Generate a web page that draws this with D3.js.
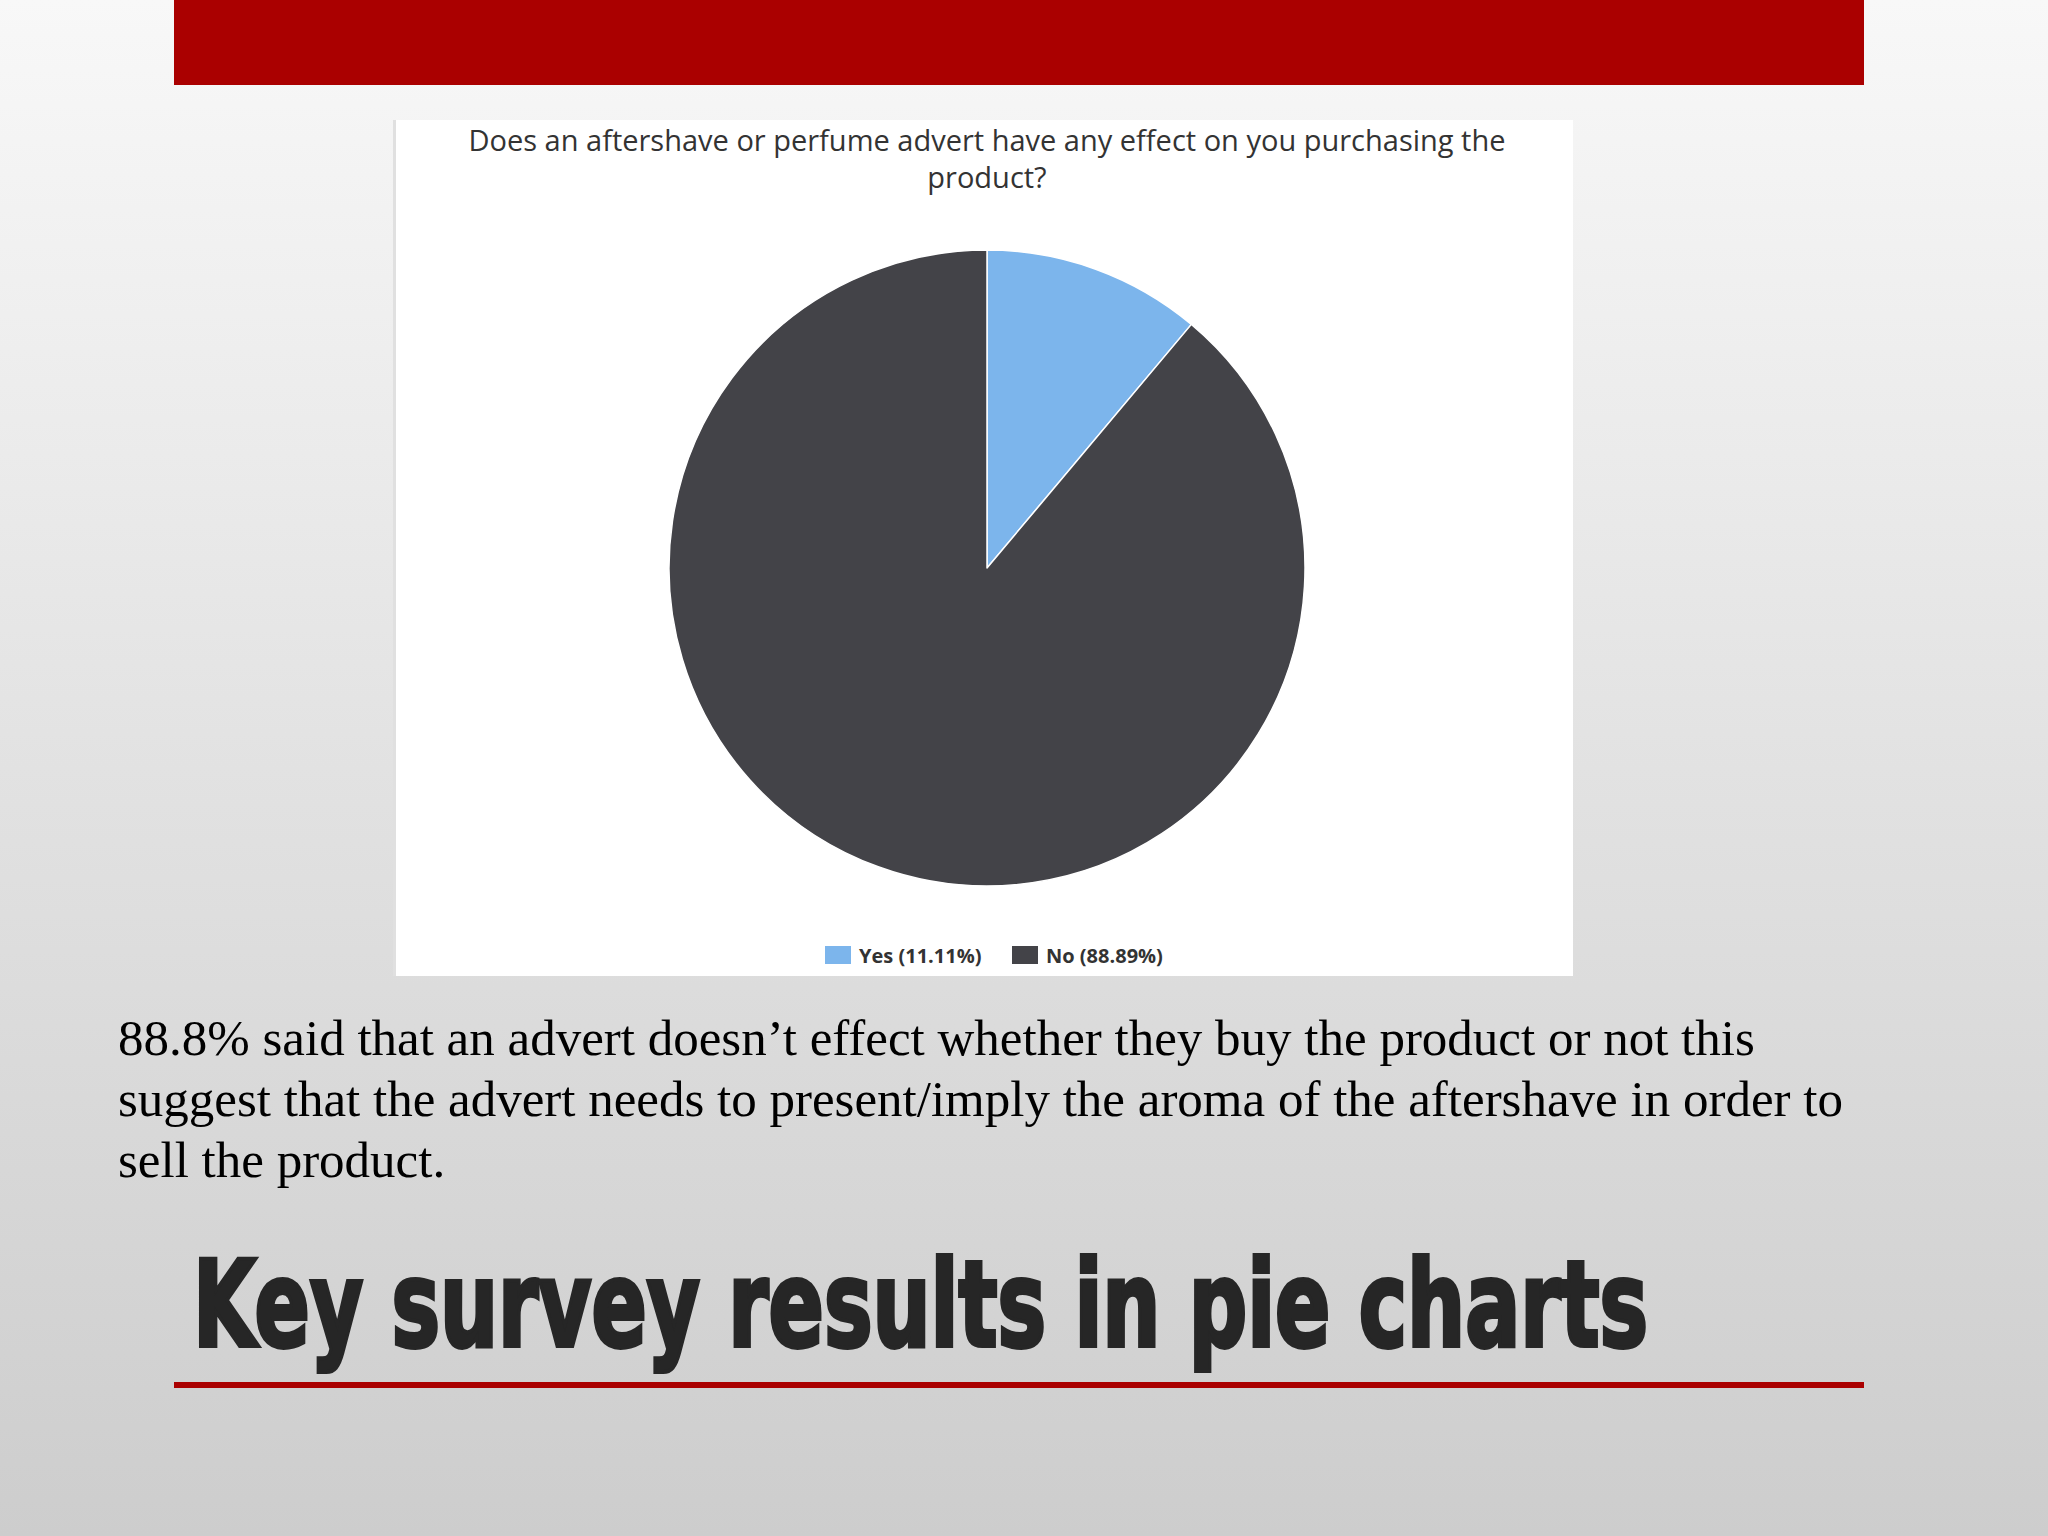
<!DOCTYPE html>
<html><head><meta charset="utf-8">
<script src="https://cdn.jsdelivr.net/npm/d3@7"></script>
<style>html,body{margin:0;padding:0;background:#fff;}svg{display:block;}</style>
</head><body>
<script>
const categories = ["Yes", "No"];
const values = [11.11, 88.89];
const legendLabels = ["Yes (11.11%)", "No (88.89%)"];
const colors = ["#7cb5ec", "#434348"];
const chartTitle = ["Does an aftershave or perfume advert have any effect on you purchasing the", "product?"];
const bodyLines = [
  "88.8% said that an advert doesn\u2019t effect whether they buy the product or not this",
  "suggest that the advert needs to present/imply the aroma of the aftershave in order to",
  "sell the product."
];
const heading = "Key survey results in pie charts";

const W = 2048, H = 1536;
const svg = d3.select("body").append("svg").attr("width", W).attr("height", H);
const defs = svg.append("defs");
const g = defs.append("linearGradient").attr("id", "bg").attr("x1", 0).attr("y1", 0).attr("x2", 0).attr("y2", 1);
g.append("stop").attr("offset", "0%").attr("stop-color", "#f8f8f8");
g.append("stop").attr("offset", "50%").attr("stop-color", "#e2e2e2");
g.append("stop").attr("offset", "100%").attr("stop-color", "#cdcdcd");
svg.append("rect").attr("width", W).attr("height", H).attr("fill", "url(#bg)");

// top red bar
svg.append("rect").attr("x", 174).attr("y", 0).attr("width", 1690).attr("height", 85).attr("fill", "#aa0000");

// chart panel
svg.append("rect").attr("x", 393).attr("y", 120).attr("width", 3).attr("height", 856).attr("fill", "#e0e0e0");
svg.append("rect").attr("x", 396).attr("y", 120).attr("width", 1177).attr("height", 856).attr("fill", "#ffffff");

// title
svg.append("g").selectAll("text").data(chartTitle).join("text")
  .attr("x", 987).attr("y", (d, i) => 151 + i * 37)
  .attr("text-anchor", "middle")
  .attr("font-family", "'Open Sans', sans-serif")
  .attr("font-size", 29).attr("fill", "#333333")
  .text(d => d);

// pie
const cx = 987, cy = 568, R = 318;
const pie = d3.pie().sort(null).value(d => d)(values);
const arc = d3.arc().innerRadius(0).outerRadius(R);
svg.append("g").attr("transform", `translate(${cx},${cy})`)
  .selectAll("path").data(pie).join("path")
  .attr("d", arc)
  .attr("fill", (d, i) => colors[i])
  .attr("stroke", "#ffffff").attr("stroke-width", 1.5).attr("stroke-linejoin", "round");

// legend
const legendX = [825, 1012];
const lg = svg.append("g");
categories.forEach((c, i) => {
  lg.append("rect").attr("x", legendX[i]).attr("y", 946).attr("width", 26).attr("height", 18).attr("fill", colors[i]);
  lg.append("text").attr("x", legendX[i] + 34).attr("y", 963)
    .attr("font-family", "'Open Sans', sans-serif").attr("font-weight", "bold")
    .attr("font-size", 20).attr("fill", "#333333").text(legendLabels[i]);
});

// body text
svg.append("g").selectAll("text").data(bodyLines).join("text")
  .attr("x", 118).attr("y", (d, i) => 1055 + i * 61)
  .attr("font-family", "'Liberation Serif', 'Times New Roman', serif")
  .attr("font-size", 51).attr("fill", "#000000")
  .text(d => d);

// heading
svg.append("text").attr("x", 193).attr("y", 1346)
  .attr("font-family", "'Liberation Sans Narrow', 'DejaVu Sans Condensed', sans-serif")
  .attr("font-weight", "bold").attr("font-size", 120)
  .attr("fill", "#262626").attr("stroke", "#262626").attr("stroke-width", 4)
  .attr("textLength", 1455).attr("lengthAdjust", "spacingAndGlyphs")
  .text(heading);

// underline
svg.append("rect").attr("x", 174).attr("y", 1382).attr("width", 1690).attr("height", 6).attr("fill", "#aa0000");
</script>
</body></html>
